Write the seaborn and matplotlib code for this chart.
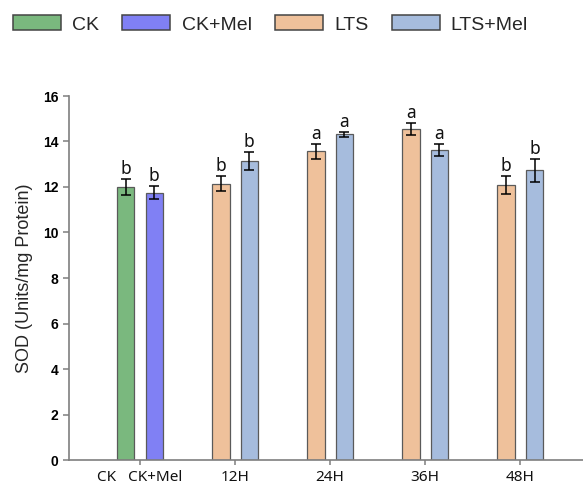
import matplotlib
matplotlib.use("Agg")
import matplotlib.pyplot as plt
import matplotlib.transforms as mtransforms
from matplotlib.patches import Patch
import pandas as pd
import seaborn as sns

# SOD activity per treatment (mean and error)
groups = ["CK", "12H", "24H", "36H", "48H"]
tick_labels = ["CK   CK+Mel", "12H", "24H", "36H", "48H"]
bar_group = ["CK", "CK", "12H", "12H", "24H", "24H", "36H", "36H", "48H", "48H"]
bar_treatment = ["CK", "CK+Mel", "LTS", "LTS+Mel", "LTS", "LTS+Mel",
                 "LTS", "LTS+Mel", "LTS", "LTS+Mel"]
bar_slot = ["base", "mel"] * 5
sod_mean = [12.00, 11.75, 12.15, 13.14, 13.58, 14.31, 14.55, 13.63, 12.09, 12.73]
sod_err = [0.36, 0.29, 0.33, 0.40, 0.33, 0.12, 0.25, 0.25, 0.40, 0.50]
letters = ["b", "b", "b", "b", "a", "a", "a", "a", "b", "b"]

legend_labels = ["CK", "CK+Mel", "LTS", "LTS+Mel"]
colors = {"CK": "#7ab87e", "CK+Mel": "#8080f4", "LTS": "#efc19b", "LTS+Mel": "#a6bcdd"}

df = pd.DataFrame({"group": bar_group, "treatment": bar_treatment,
                   "slot": bar_slot, "sod": sod_mean, "err": sod_err,
                   "letter": letters})

sns.set_style("ticks")
plt.rcParams["font.family"] = ["Liberation Sans", "DejaVu Sans"]

fig = plt.figure(figsize=(5.83, 4.86), dpi=100)
ax = fig.add_axes([69 / 583, 26 / 486, 514 / 583, 364 / 486])

sns.barplot(data=df, x="group", y="sod", hue="slot", order=groups,
            hue_order=["base", "mel"], palette=["#cccccc", "#cccccc"],
            width=0.6, gap=0.39, errorbar=None, edgecolor="#5a5a5a",
            linewidth=0.9, legend=False, ax=ax)

# colour each bar by treatment, then add error bars and significance letters
for level, container in zip(["base", "mel"], ax.containers):
    sub = df[df["slot"] == level].set_index("group").loc[groups]
    for bar, (_, row) in zip(container, sub.iterrows()):
        bar.set_facecolor(colors[row["treatment"]])
        cx = bar.get_x() + bar.get_width() / 2
        top = bar.get_height()
        ax.errorbar(cx, top, yerr=row["err"], fmt="none", ecolor="black",
                    elinewidth=1.1, capsize=3.5, capthick=1.1, zorder=5)
        ax.annotate(row["letter"], xy=(cx, top + row["err"]), xytext=(0, 3.5),
                    textcoords="offset points", ha="center", va="baseline",
                    fontsize=12.5, family=["Noto Sans", "DejaVu Sans"], color="#111111")

ax.set_ylim(0, 16)
ax.set_xlim(-0.747, 4.66)
ax.set_yticks(range(0, 17, 2))
ax.set_xticks(range(len(groups)))
ax.set_xticklabels(tick_labels, fontsize=11, family=["Noto Sans", "DejaVu Sans"])
for lbl in ax.get_yticklabels():
    lbl.set_fontweight("bold")
    lbl.set_fontsize(10)
ax.set_xlabel("")
ax.set_ylabel("SOD (Units/mg Protein)", fontsize=13)
ax.yaxis.set_label_coords(-0.07, 0.5)

# shift the paired control label so it sits under both control bars
first = ax.get_xticklabels()[0]
first.set_transform(first.get_transform() +
                    mtransforms.ScaledTranslation(6 / 72, 0, fig.dpi_scale_trans))

sns.despine(ax=ax)
for side in ["left", "bottom"]:
    ax.spines[side].set_color("#7f7f7f")
    ax.spines[side].set_linewidth(1.2)
ax.tick_params(axis="y", length=4.5, width=1.1, color="#7f7f7f", pad=3, labelcolor="black")
ax.tick_params(axis="x", length=3.5, width=1.1, color="#7f7f7f", pad=4, labelcolor="#111111")

handles = [Patch(facecolor=colors[t], edgecolor="#444444", linewidth=1.1) for t in legend_labels]
fig.legend(handles, legend_labels, loc="center left",
           bbox_to_anchor=(13 / 583, 1 - 24.5 / 486), ncol=4, frameon=False,
           fontsize=14, handlelength=2.47, handleheight=0.77, handletextpad=0.57,
           columnspacing=1.2, borderpad=0, borderaxespad=0)

fig.savefig("out.png", dpi=100)
